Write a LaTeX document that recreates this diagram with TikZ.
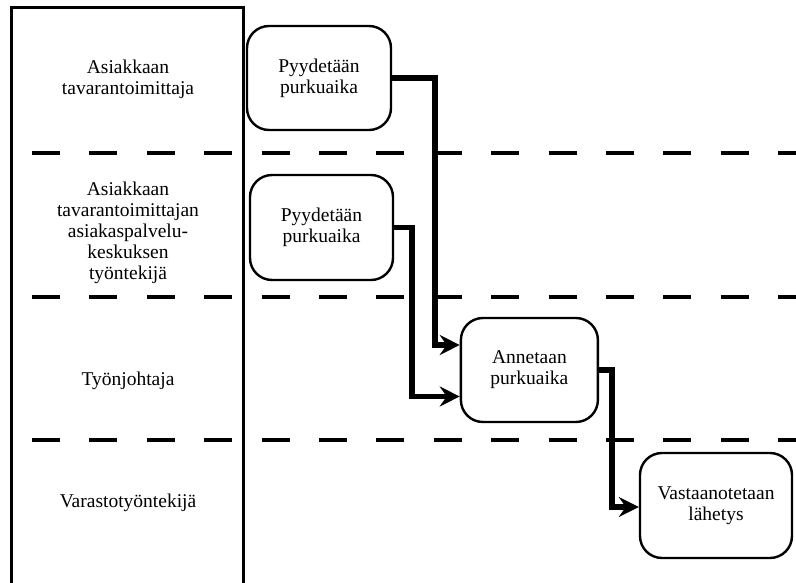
\documentclass[tikz,border=0pt]{standalone}
\usepackage{fontspec}
\setmainfont{Liberation Serif}
\newfontfamily\diagfont{Liberation Serif}
\usetikzlibrary{arrows.meta}
\begin{document}
\begin{tikzpicture}[x=1pt,y=-1pt,
  every node/.style={font=\diagfont\fontsize{19.5}{21}\selectfont},
  lanebox/.style={draw, line width=3pt},
  lanesep/.style={line width=4pt, dash pattern=on 28pt off 29.4pt},
  lanelabel/.style={align=center, inner sep=0pt},
  task/.style={draw, line width=2.4pt, rounded corners=22pt, align=center, inner sep=0pt},
  conn/.style={line width=5.5pt, -{Stealth[length=20pt,width=20pt,inset=7pt]}}
]
\useasboundingbox (0,0) rectangle (796,583);
\clip (0,0) rectangle (796,583);

% column of lane names
\node[lanebox, minimum width=231.3pt, minimum height=582pt, inner sep=0pt] (names) at (127.35,299) {};

% lane separators
\draw[lanesep] (32,153) -- (796,153);
\draw[lanesep] (32,297) -- (796,297);
\draw[lanesep] (32,440) -- (796,440);

% lane names
\node[lanelabel] (l1) at (128,79) {Asiakkaan\\tavarantoimittaja};
\node[lanelabel] (l2) at (128,233) {Asiakkaan\\tavarantoimittajan\\asiakaspalvelu-\\keskuksen\\työntekijä};
\node[lanelabel] (l3) at (128,381) {Työnjohtaja};
\node[lanelabel] (l4) at (128,503) {Varastotyöntekijä};

% tasks
\node[task, minimum width=144pt, minimum height=104pt] (b1) at (319,78) {Pyydetään\\purkuaika};
\node[task, minimum width=143pt, minimum height=105pt] (b2) at (321.5,227.5) {Pyydetään\\purkuaika};
\node[task, minimum width=137pt, minimum height=104pt] (b3) at (529.4,370) {Annetaan\\purkuaika};
\node[task, minimum width=152pt, minimum height=105pt] (b4) at (716,505.5) {Vastaanotetaan\\lähetys};

% bends of the flow
\coordinate (k1) at (435,345);
\coordinate (k2) at (412,396.5);
\coordinate (k3) at (612,507);

% flow
\draw[conn] (b1.east) -| (k1) -- (k1 -| b3.west);
\draw[conn] (b2.east) -| (k2) -- (k2 -| b3.west);
\draw[conn] (b3.east) -| (k3) -- (k3 -| b4.west);
\end{tikzpicture}
\end{document}
